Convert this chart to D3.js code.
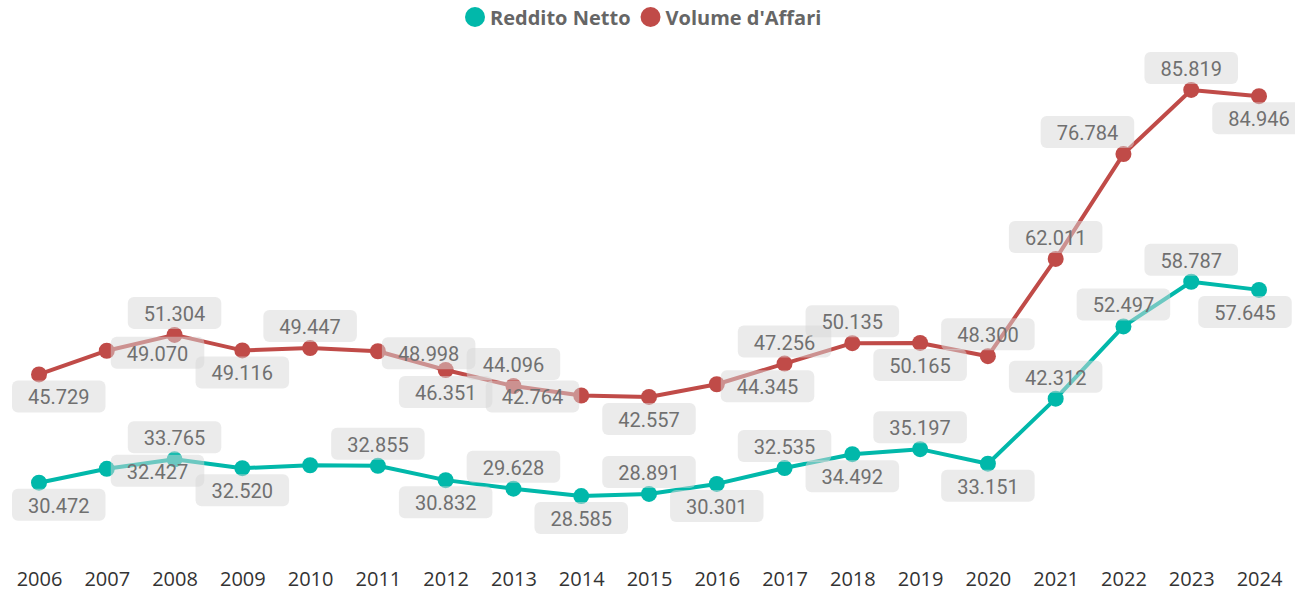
<!DOCTYPE html>
<html>
<head>
<meta charset="utf-8">
<script src="https://cdn.jsdelivr.net/npm/d3@7"></script>
<style>
  body { margin: 0; background: #fff; }
</style>
</head>
<body>
<script>
'use strict';

// years on the x axis
const years = ["2006","2007","2008","2009","2010","2011","2012","2013","2014","2015",
  "2016","2017","2018","2019","2020","2021","2022","2023","2024"];

// Reddito Netto (thousands)
const redditoNetto = [30.472, 32.427, 33.765, 32.520, 32.93, 32.855, 30.832, 29.628, 28.585,
  28.891, 30.301, 32.535, 34.492, 35.197, 33.151, 42.312, 52.497, 58.787, 57.645];

// Volume d'Affari (thousands)
const volumeAffari = [45.729, 49.070, 51.304, 49.116, 49.447, 48.998, 46.351, 44.096, 42.764,
  42.557, 44.345, 47.256, 50.135, 50.165, 48.300, 62.011, 76.784, 85.819, 84.946];

// where each data label sits: a = above, b = below, l = left, r = right, '' = hidden
const nettoLabelPos = ["b","r","a","b","","a","b","a","b","a","b","a","b","a","b","a","a","a","b"];
const volumeLabelPos = ["b","r","a","b","a","r","b","a","l","b","r","a","a","b","a","a","a","a","b"];

const series = [
  { name: "Reddito Netto", values: redditoNetto, pos: nettoLabelPos, color: "#01B8AA", shift: { 18: -14 } },
  { name: "Volume d'Affari", values: volumeAffari, pos: volumeLabelPos, color: "#C04B48", shift: { 16: -36 } }
];

const width = 1295, height = 592;

let svg = d3.select('body').append('svg')
  .attr('width', width)
  .attr('height', height);

let xScale = d3.scalePoint().domain(years).range([39, 1259]);
let yScale = d3.scaleLinear().domain([20, 90]).range([557, 60.3]);

// x axis labels (no line, no ticks)
let xAxis = d3.axisBottom(xScale).tickSize(0).tickPadding(0);
let gx = svg.append('g')
  .attr('transform', 'translate(0, 572)')
  .call(xAxis);
gx.select('.domain').remove();
gx.selectAll('text')
  .attr('dy', '0.71em')
  .style('font-family', '"Open Sans", sans-serif')
  .style('font-size', '20px')
  .style('fill', '#333');

// lines and markers
let line = d3.line()
  .x((d, i) => xScale(years[i]))
  .y(d => yScale(d));

series.forEach(s => {
  svg.append('path')
    .datum(s.values)
    .attr('d', line)
    .attr('fill', 'none')
    .attr('stroke', s.color)
    .attr('stroke-width', 4)
    .attr('stroke-linejoin', 'round');

  svg.selectAll(null)
    .data(s.values)
    .enter()
    .append('circle')
    .attr('cx', (d, i) => xScale(years[i]))
    .attr('cy', d => yScale(d))
    .attr('r', 8)
    .attr('fill', s.color);
});

// data labels with rounded grey boxes
let fmt = d3.format('.3f');
let labelLayer = svg.append('g');
const boxH = 32, gap = 6;

series.forEach(s => {
  s.values.forEach((v, i) => {
    let p = s.pos[i];
    if (!p) return;
    let px = xScale(years[i]);
    let py = yScale(v);
    let g = labelLayer.append('g');
    let rect = g.append('rect');
    let txt = g.append('text')
      .style('font-family', 'Roboto, sans-serif')
      .style('font-size', '20px')
      .style('fill', '#707070')
      .attr('text-anchor', 'middle')
      .attr('dominant-baseline', 'central')
      .text(fmt(v));
    let boxW = txt.node().getComputedTextLength() + 32;
    let bx, by;
    if (p === 'a') { bx = px - boxW / 2; by = py - gap - boxH; }
    else if (p === 'b') { bx = px - boxW / 2; by = py + gap; }
    else if (p === 'r') { bx = px + 4; by = py - boxH / 2 + 2; }
    else { bx = px - 2 - boxW; by = py - boxH / 2 + 1; }
    if (s.shift[i]) bx += s.shift[i];
    if (bx < 12) bx = 12;
    rect.attr('x', bx).attr('y', by)
      .attr('width', boxW).attr('height', boxH)
      .attr('rx', 6)
      .attr('fill', '#d8d8d8')
      .attr('fill-opacity', 0.5);
    txt.attr('x', bx + boxW / 2).attr('y', by + boxH / 2 + 1);
  });
});

// legend
let legend = svg.append('g').attr('transform', 'translate(465, 17)');
let lx = 0;
series.forEach(s => {
  legend.append('circle')
    .attr('cx', lx + 10)
    .attr('cy', 0)
    .attr('r', 10)
    .attr('fill', s.color);
  let t = legend.append('text')
    .attr('x', lx + 25)
    .attr('y', 0)
    .attr('dominant-baseline', 'central')
    .style('font-family', '"Open Sans", sans-serif')
    .style('font-weight', 700)
    .style('font-size', '20px')
    .style('fill', '#666')
    .text(s.name);
  lx += 25 + t.node().getComputedTextLength() + 10;
});
</script>
</body>
</html>
